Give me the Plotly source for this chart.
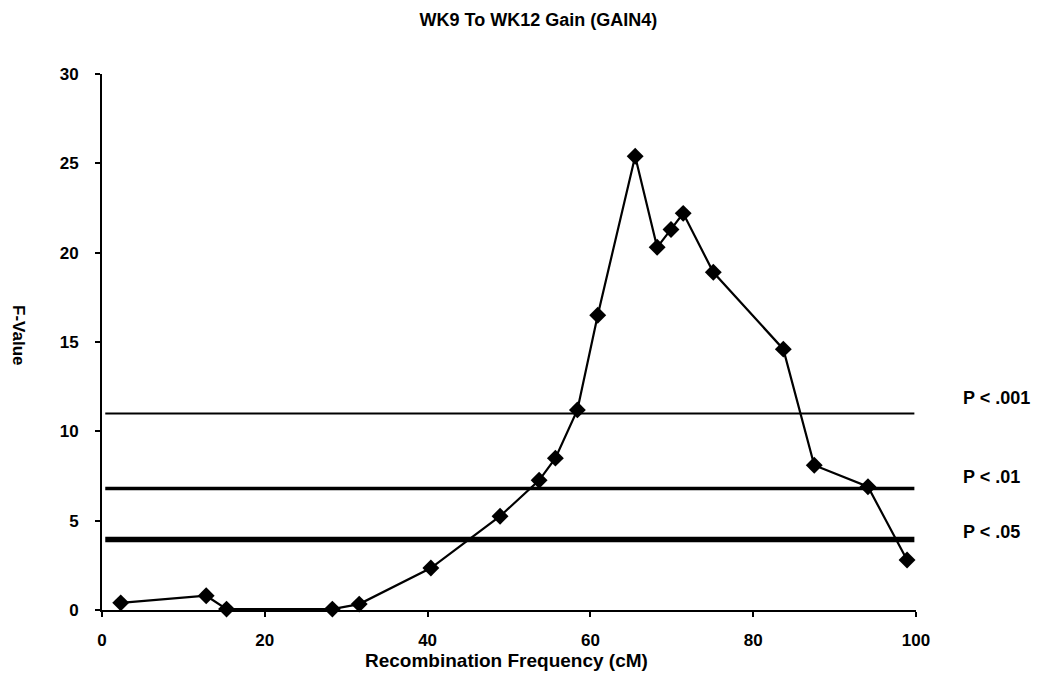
import plotly.graph_objects as go

# Data
recomb_cm = [2.3, 12.8, 15.3, 28.3, 31.6, 40.4, 48.9, 53.7, 55.7, 58.4,
             60.9, 65.5, 68.2, 69.9, 71.4, 75.1, 83.7, 87.5, 94.1, 98.9]
f_value = [0.4, 0.8, 0.05, 0.05, 0.33, 2.35, 5.25, 7.26, 8.5, 11.2,
           16.5, 25.4, 20.3, 21.3, 22.2, 18.9, 14.6, 8.1, 6.9, 2.8]

threshold_labels = ["P < .001", "P < .01", "P < .05"]
threshold_values = [11.0, 6.8, 3.95]
threshold_widths = [2, 3.5, 5.5]
label_offsets = [0.85, 0.62, 0.42]

x_ticks = [0, 20, 40, 60, 80, 100]
y_ticks = [0, 5, 10, 15, 20, 25, 30]

FONT = "Liberation Sans, Arial, sans-serif"

fig = go.Figure()

fig.add_trace(go.Scatter(
    x=recomb_cm, y=f_value, mode="lines+markers",
    line=dict(color="black", width=2.2),
    marker=dict(symbol="diamond", size=13, color="black"),
    showlegend=False, cliponaxis=False,
))

for lab, val, w, off in zip(threshold_labels, threshold_values, threshold_widths, label_offsets):
    fig.add_shape(type="line", xref="paper", yref="y", x0=0.004, x1=0.998,
                  y0=val, y1=val, line=dict(color="black", width=w), layer="below")
    fig.add_annotation(text=lab, xref="paper", yref="y", x=1.055, y=val + off,
                       xanchor="left", yanchor="middle", showarrow=False,
                       font=dict(family=FONT, size=18, color="black", weight="bold"))

fig.add_annotation(text="F-Value", xref="paper", yref="paper", x=-0.102, y=0.513,
                   textangle=90, showarrow=False, xanchor="center", yanchor="middle",
                   font=dict(family=FONT, size=17, color="black", weight="bold"))

fig.add_annotation(text="Recombination Frequency (cM)", xref="paper", yref="paper",
                   x=0.497, y=-0.095, showarrow=False, xanchor="center", yanchor="middle",
                   font=dict(family=FONT, size=19, color="black", weight="bold"))

fig.update_layout(
    width=1044, height=676,
    margin=dict(l=94, r=136, t=66, b=74),
    paper_bgcolor="white", plot_bgcolor="white",
    title=dict(text="WK9 To WK12 Gain (GAIN4)", x=0.508, xanchor="center",
               y=0.982, yanchor="middle",
               font=dict(family=FONT, size=18, color="black", weight="bold")),
    font=dict(family=FONT, color="black"),
)

fig.update_xaxes(
    range=[0, 100], tickvals=x_ticks, showgrid=False, zeroline=False,
    showline=True, linecolor="black", linewidth=2,
    ticks="outside", ticklen=5, tickwidth=2, tickcolor="black",
    ticklabelstandoff=9,
    tickfont=dict(family=FONT, size=17, color="black", weight="bold"),
)
fig.update_yaxes(
    range=[0, 30], tickvals=y_ticks, showgrid=False, zeroline=False,
    showline=True, linecolor="black", linewidth=2,
    ticks="outside", ticklen=5, tickwidth=2, tickcolor="black",
    ticklabelstandoff=13,
    tickfont=dict(family=FONT, size=17, color="black", weight="bold"),
)

fig.write_html("out.html")
